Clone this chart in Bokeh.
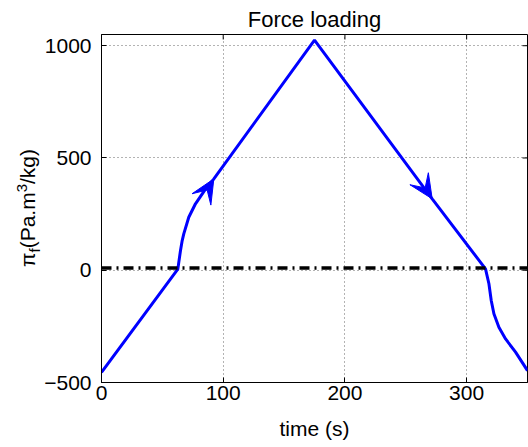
import math
from bokeh.plotting import figure
from bokeh.layouts import row
from bokeh.models import Range1d, FixedTicker, Div
from bokeh.embed import file_html
from bokeh.resources import INLINE

# ---------------- data ----------------
time_s = [0, 62.7, 64.9, 66.3, 67.6, 71.7, 77.2, 84.6, 92.3, 175, 271.7,
          315.5, 318.3, 320.2, 322.4, 326.5, 332, 340.2, 350]
pi_f = [-455, 5, 88, 132, 162, 236, 296, 355, 407, 1025, 318,
        6, -60, -135, -194, -254, -306, -365, -447]
ref_time = [0, 350]
ref_level = [10, 10]
arrow_tip_t = [92.3, 271.7]
arrow_tip_v = [407, 318]
arrow_tail_t = [82.4, 261.4]
arrow_tail_v = [318, 404]
x_ticks = [0, 100, 200, 300]
y_ticks = [-500, 0, 500, 1000]
y_tick_labels = ["\u2212500", "0", "500", "1000"]
title_text = "Force loading"
x_label = "time (s)"

# ---------------- geometry ----------------
TOTAL_W, H = 528, 447
LAB_W = 40
W = TOTAL_W - LAB_W
BL, BR, BT, BB = 61, 1, 34, 65
FW, FH = W - BL - BR, H - BT - BB
X0, X1 = 0, 350
Y0, Y1 = -500, 1050
SX = FW / (X1 - X0)
SY = FH / (Y1 - Y0)
FL, FT = LAB_W + BL, BT


def t_of(px):
    return X0 + (px - FL) / SX


def v_of(py):
    return Y1 - (py - FT) / SY


def px_of(t):
    return FL + (t - X0) * SX


def py_of(v):
    return FT + (Y1 - v) * SY


FONT = "Liberation Sans"

p = figure(width=W, height=H, output_backend="svg", toolbar_location=None,
           x_range=Range1d(X0, X1), y_range=Range1d(Y0, Y1),
           min_border_left=BL, min_border_right=BR, min_border_top=BT,
           min_border_bottom=BB)
p.background_fill_color = "white"
p.border_fill_color = "white"
p.outline_line_color = "black"
p.outline_line_width = 1

# title
p.title.text = title_text
p.title.align = "center"
p.title.vertical_align = "middle"
p.title.text_font = FONT
p.title.text_font_size = "22px"
p.title.text_font_style = "normal"
p.title.text_color = "black"
p.title.standoff = 4

# axes
for ax in (p.xaxis[0], p.yaxis[0]):
    ax.major_tick_in = 5
    ax.major_tick_out = 0
    ax.minor_tick_line_color = None
    ax.axis_line_color = "black"
    ax.major_tick_line_color = "black"
    ax.major_label_text_font = FONT
    ax.major_label_text_font_size = "21px"
    ax.major_label_text_color = "black"
p.xaxis[0].ticker = FixedTicker(ticks=x_ticks)
p.yaxis[0].ticker = FixedTicker(ticks=y_ticks)
p.yaxis[0].major_label_overrides = {k: s for k, s in zip(y_ticks, y_tick_labels)}
p.xaxis[0].major_label_standoff = 3
p.yaxis[0].major_label_standoff = 10
p.xaxis[0].axis_label = x_label
p.xaxis[0].axis_label_text_font = FONT
p.xaxis[0].axis_label_text_font_size = "21px"
p.xaxis[0].axis_label_text_font_style = "normal"
p.xaxis[0].axis_label_text_color = "black"
p.xaxis[0].axis_label_standoff = 14

# grid
for g in (p.xgrid[0], p.ygrid[0]):
    g.grid_line_color = "black"
    g.grid_line_alpha = 0.6
    g.grid_line_dash = "1 3"
    g.grid_line_width = 1

# inward ticks on the top and right edges (half of each dash is clipped)
p.scatter([X1] * len(y_ticks), y_ticks, marker="dash", size=10,
          line_color="black", line_width=1)
p.scatter(x_ticks, [Y1] * len(x_ticks), marker="dash", size=10,
          angle=math.pi / 2, line_color="black", line_width=1)

# curves
p.line(time_s, pi_f, line_color="#0000ff", line_width=3)
p.line(ref_time, ref_level, line_color="black", line_width=3.5,
       line_dash="10 5 2 5")

# arrowheads (shape built in screen space from tip/tail data points)
L, HW, N = 24, 11, 13
xs, ys = [], []
for tt, tv, bt, bv in zip(arrow_tip_t, arrow_tip_v, arrow_tail_t, arrow_tail_v):
    tx, ty = px_of(tt), py_of(tv)
    bx, by = px_of(bt), py_of(bv)
    d = math.hypot(tx - bx, ty - by)
    ux, uy = (tx - bx) / d, (ty - by) / d
    nx, ny = -uy, ux
    pts = [(tx, ty),
           (tx - L * ux + HW * nx, ty - L * uy + HW * ny),
           (tx - N * ux, ty - N * uy),
           (tx - L * ux - HW * nx, ty - L * uy - HW * ny)]
    xs.append([t_of(a) for a, b in pts])
    ys.append([v_of(b) for a, b in pts])
p.patches(xs, ys, fill_color="#0000ff", line_color="#0000ff", line_width=1)

# ---------------- y label: HTML text rotated with CSS ----------------
cx, cy = 27, FT + FH / 2
small = "font-size:15px;line-height:0;"
label_html = (
    f'<div style="position:relative;width:{LAB_W}px;height:{H}px;">'
    f'<div style="position:absolute;left:{cx}px;top:{cy}px;'
    f'transform:translate(-50%,-50%) rotate(-90deg);white-space:nowrap;'
    f"font-family:'{FONT}';font-size:21px;line-height:1;color:black;\">"
    f'\u03c0<span style="{small}vertical-align:-5px;">f</span>'
    f'(Pa.m<span style="{small}vertical-align:8px;">3</span>/kg)'
    f'</div></div>'
)
ylab = Div(text=label_html, width=LAB_W, height=H, margin=0)

layout = row(ylab, p, spacing=0)
open("out.html", "w").write(file_html(layout, INLINE))
